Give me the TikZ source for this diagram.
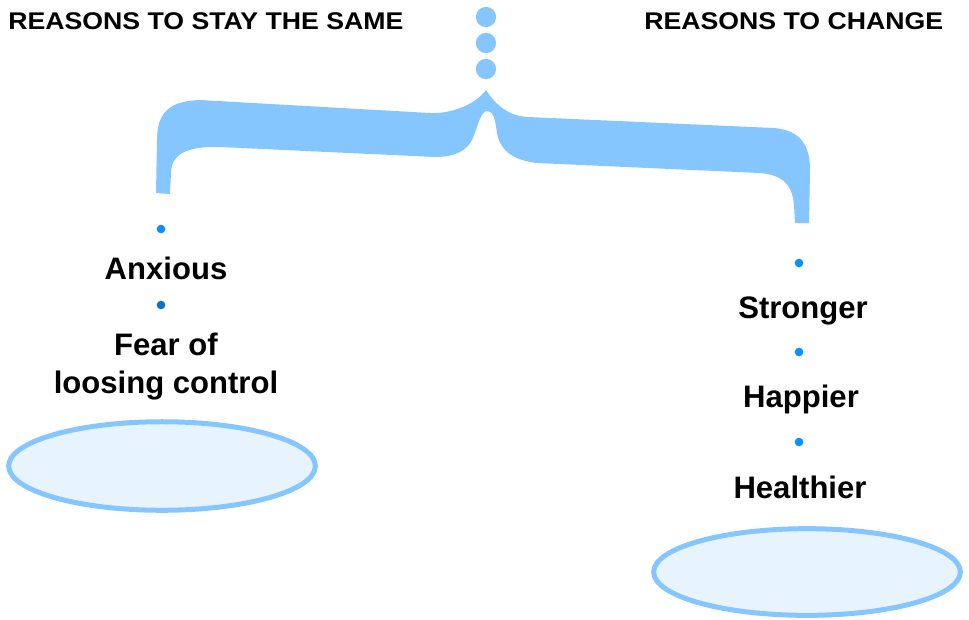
\documentclass[tikz,border=0pt]{standalone}
\usepackage{fontspec}
\setmainfont{Liberation Sans}
\definecolor{brace}{HTML}{85C6FE}
\definecolor{ellfill}{HTML}{E7F4FE}
\definecolor{bullA}{HTML}{0A90FF}
\definecolor{bullB}{HTML}{0B72C8}
\begin{document}
\begin{tikzpicture}[x=0.75pt,y=-0.75pt,
  title/.style={font=\bfseries\fontsize{18.1}{21}\selectfont, xscale=1.105, inner sep=0pt, anchor=base west},
  item/.style={font=\bfseries\fontsize{23.3}{28.5}\selectfont, inner sep=0pt, anchor=base, align=center},
  bullet/.style={circle, inner sep=0pt, minimum size=6.5pt, fill=#1},
  pan/.style={draw=brace, line width=3.75pt, fill=ellfill}]
\useasboundingbox (0,0) rectangle (969,619);
% titles
\node[title] (tl) at (8,29) {REASONS TO STAY THE SAME};
\node[title] (tr) at (644,29) {REASONS TO CHANGE};
% dots
\fill[brace] (486,17) circle [radius=7.6pt];
\fill[brace] (486,43) circle [radius=7.6pt];
\fill[brace] (486,69) circle [radius=7.6pt];
% brace
\fill[brace] (156,193) -- (157,140)
  .. controls (157,110) and (172,101) .. (200,100)
  -- (430,113)
  .. controls (452,114) and (476,104) .. (486,90)
  .. controls (497,107) and (510,116) .. (528,117)
  -- (774,128)
  .. controls (800,130) and (810,145) .. (810,170)
  -- (809,223) -- (795,223) -- (794,205)
  .. controls (792,182) and (780,175) .. (760,173)
  -- (537,163)
  .. controls (512,160) and (500,150) .. (497,133)
  .. controls (495,118) and (493,111) .. (487,111)
  .. controls (481,111) and (478,125) .. (473,138)
  .. controls (467,151) and (455,157) .. (435,157)
  -- (220,147)
  .. controls (185,146) and (172,155) .. (171,172)
  -- (170,194) -- cycle;
% left side
\node[bullet=bullA] (b1) at (161,229) {};
\node[item] (anx) at (166,279) {Anxious};
\node[bullet=bullB] (b2) at (161,305) {};
\node[item] (fear) at (166,393) {Fear of\\loosing control};
\draw[pan] (162,466) ellipse [x radius=115pt, y radius=33.2pt];
% right side
\node[bullet=bullA] (b3) at (799,263) {};
\node[item] (str) at (803,318) {Stronger};
\node[bullet=bullA] (b4) at (799,352) {};
\node[item] (hap) at (801,407) {Happier};
\node[bullet=bullA] (b5) at (799,442) {};
\node[item] (hea) at (800,498) {Healthier};
\draw[pan] (807,572) ellipse [x radius=115pt, y radius=32.5pt];
\end{tikzpicture}
\end{document}
